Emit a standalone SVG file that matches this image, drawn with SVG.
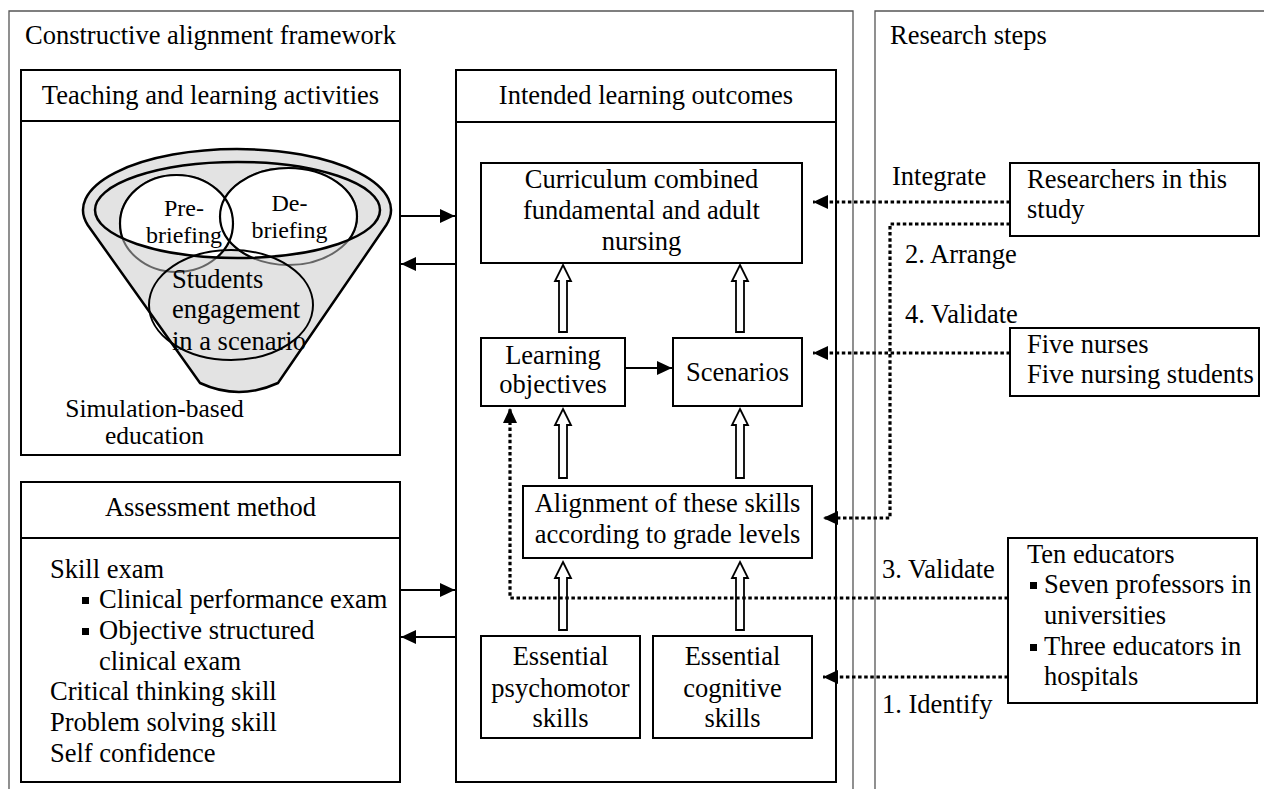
<svg xmlns="http://www.w3.org/2000/svg" width="1264" height="789" viewBox="0 0 1264 789">
<style>
text{font-family:"Liberation Serif","Times New Roman",serif;font-size:26.5px;fill:#000}
.c{text-anchor:middle}
.sm{font-size:24px}
.md{font-size:25.5px}
.box{fill:#fff;stroke:#000;stroke-width:2}
.frame{fill:none;stroke:#555;stroke-width:1.3}
.sol{fill:none;stroke:#000;stroke-width:1.8}
.dot{fill:none;stroke:#000;stroke-width:3.2;stroke-dasharray:3.5 2.6}
.hol{fill:#fff;stroke:#000;stroke-width:1.8}
.fun{fill:#e3e3e3}
</style>
<defs>
<marker id="ah" markerUnits="userSpaceOnUse" markerWidth="16" markerHeight="14" refX="15" refY="7" orient="auto"><path d="M0,0 L15,7 L0,14 Z" fill="#000"/></marker>
<clipPath id="inner"><ellipse cx="237.5" cy="210" rx="142.5" ry="48"/></clipPath>
</defs>
<rect width="1264" height="789" fill="#fff"/>

<g id="frame-left"><path class="frame" d="M9,789 V11 H853 V789"/><text x="25" y="44">Constructive alignment framework</text></g>
<g id="frame-right"><path class="frame" d="M875,789 V11 H1264"/><text x="890" y="44">Research steps</text></g>

<g id="teaching">
<rect class="box" x="21" y="70" width="379" height="385"/>
<line x1="21" y1="121" x2="400" y2="121" stroke="#000" stroke-width="2"/>
<text class="c" x="210.5" y="104">Teaching and learning activities</text>
<path class="fun" d="M87.7,225 A154,61 0 1 1 386.3,225 L278,383 Q239,401 200,383 Z"/>
<ellipse cx="237.5" cy="210" rx="142.5" ry="48" fill="#e3e3e3" stroke="none"/>
<ellipse cx="176.5" cy="223.5" rx="56.5" ry="48.5" fill="none" stroke="#666" stroke-width="2"/>
<ellipse cx="288.5" cy="216.5" rx="68.5" ry="48.5" fill="none" stroke="#666" stroke-width="2"/>
<g clip-path="url(#inner)">
<ellipse cx="176.5" cy="223.5" rx="56.5" ry="48.5" fill="#fff"/>
<ellipse cx="288.5" cy="216.5" rx="68.5" ry="48.5" fill="#fff"/>
<ellipse cx="176.5" cy="223.5" rx="56.5" ry="48.5" fill="none" stroke="#000" stroke-width="2.2"/>
<ellipse cx="288.5" cy="216.5" rx="68.5" ry="48.5" fill="none" stroke="#000" stroke-width="2.2"/>
</g>
<ellipse cx="237.5" cy="210" rx="142.5" ry="48" fill="none" stroke="#000" stroke-width="2.5"/>
<ellipse cx="231" cy="305" rx="82" ry="55" fill="none" stroke="#000" stroke-width="2"/>
<path d="M87.7,225 A154,61 0 1 1 386.3,225 L278,383 Q239,401 200,383 Z" fill="none" stroke="#000" stroke-width="2.5"/>
<text class="c sm" x="184" y="216">Pre-</text>
<text class="c sm" x="184" y="243">briefing</text>
<text class="c sm" x="289.5" y="211">De-</text>
<text class="c sm" x="289.5" y="238">briefing</text>
<text x="172" y="288">Students</text>
<text x="172" y="318">engagement</text>
<text x="172" y="350">in a scenario</text>
<text class="c md" x="154.5" y="417">Simulation-based</text>
<text class="c md" x="154.5" y="444">education</text>
</g>

<g id="assessment">
<rect class="box" x="21" y="482" width="379" height="300"/>
<line x1="21" y1="538" x2="400" y2="538" stroke="#000" stroke-width="2"/>
<text class="c" x="210.5" y="516">Assessment method</text>
<text x="50" y="578">Skill exam</text>
<rect x="82" y="597" width="7" height="7"/>
<text x="99" y="608">Clinical performance exam</text>
<rect x="82" y="628" width="7" height="7"/>
<text x="99" y="639">Objective structured</text>
<text x="99" y="670">clinical exam</text>
<text x="50" y="700">Critical thinking skill</text>
<text x="50" y="731">Problem solving skill</text>
<text x="50" y="762">Self confidence</text>
</g>

<g id="ilo">
<rect class="box" x="456" y="70" width="380" height="712"/>
<line x1="456" y1="122" x2="836" y2="122" stroke="#000" stroke-width="2"/>
<text class="c" x="646" y="104">Intended learning outcomes</text>
</g>

<g id="curriculum">
<rect class="box" x="481" y="163" width="321" height="100"/>
<text class="c" x="641.5" y="188">Curriculum combined</text>
<text class="c" x="641.5" y="219">fundamental and adult</text>
<text class="c" x="641.5" y="250">nursing</text>
</g>
<g id="objectives">
<rect class="box" x="481" y="338" width="144" height="68"/>
<text class="c" x="553" y="364">Learning</text>
<text class="c" x="553" y="393">objectives</text>
</g>
<g id="scenarios">
<rect class="box" x="673" y="338" width="129" height="68"/>
<text class="c" x="737.5" y="381">Scenarios</text>
</g>
<g id="alignment">
<rect class="box" x="523" y="486" width="289" height="72"/>
<text class="c" x="667.5" y="512">Alignment of these skills</text>
<text class="c" x="667.5" y="543">according to grade levels</text>
</g>
<g id="psychomotor">
<rect class="box" x="481" y="636" width="159" height="102"/>
<text class="c" x="560.5" y="665">Essential</text>
<text class="c" x="560.5" y="697">psychomotor</text>
<text class="c" x="560.5" y="727">skills</text>
</g>
<g id="cognitive">
<rect class="box" x="653" y="636" width="159" height="102"/>
<text class="c" x="732.5" y="665">Essential</text>
<text class="c" x="732.5" y="697">cognitive</text>
<text class="c" x="732.5" y="727">skills</text>
</g>

<g id="researchers">
<rect class="box" x="1010" y="163" width="249" height="73"/>
<text x="1027" y="188">Researchers in this</text>
<text x="1027" y="218">study</text>
</g>
<g id="nurses">
<rect class="box" x="1010" y="328" width="249" height="68"/>
<text x="1027" y="353">Five nurses</text>
<text x="1027" y="383">Five nursing students</text>
</g>
<g id="educators">
<rect class="box" x="1008" y="538" width="249" height="165"/>
<text x="1027" y="563">Ten educators</text>
<rect x="1030" y="582" width="7" height="7"/>
<text x="1044" y="593">Seven professors in</text>
<text x="1044" y="624">universities</text>
<rect x="1030" y="644" width="7" height="7"/>
<text x="1044" y="655">Three educators in</text>
<text x="1044" y="685">hospitals</text>
</g>

<g id="connectors">
<path class="sol" d="M400,216 H455" marker-end="url(#ah)"/>
<path class="sol" d="M456,264 H401" marker-end="url(#ah)"/>
<path class="sol" d="M400,590 H455" marker-end="url(#ah)"/>
<path class="sol" d="M456,637 H401" marker-end="url(#ah)"/>
<path class="sol" d="M625,368 H672" marker-end="url(#ah)"/>
<path class="hol" d="M563,265 L571,281 L567,281 L567,332 L559,332 L559,281 L555,281 Z"/>
<path class="hol" d="M740,265 L748,281 L744,281 L744,332 L736,332 L736,281 L732,281 Z"/>
<path class="hol" d="M563,409 L571,425 L567,425 L567,478 L559,478 L559,425 L555,425 Z"/>
<path class="hol" d="M740,409 L748,425 L744,425 L744,478 L736,478 L736,425 L732,425 Z"/>
<path class="hol" d="M563,562 L571,578 L567,578 L567,630 L559,630 L559,578 L555,578 Z"/>
<path class="hol" d="M740,562 L748,578 L744,578 L744,630 L736,630 L736,578 L732,578 Z"/>
<path class="dot" d="M1010,202 H813" marker-end="url(#ah)"/>
<path class="dot" d="M1010,224 H890 V518 H823" marker-end="url(#ah)"/>
<path class="dot" d="M1010,353 H813" marker-end="url(#ah)"/>
<path class="dot" d="M1008,598 H510 V408" marker-end="url(#ah)"/>
<path class="dot" d="M1008,677 H823" marker-end="url(#ah)"/>
<text x="892" y="185">Integrate</text>
<text x="905" y="263">2. Arrange</text>
<text x="905" y="323">4. Validate</text>
<text x="882" y="578">3. Validate</text>
<text x="882" y="713">1. Identify</text>
</g>
</svg>
